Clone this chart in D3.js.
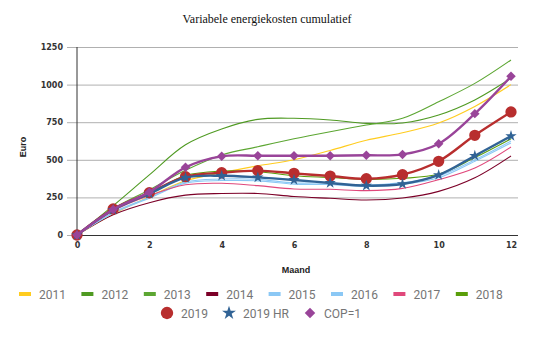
<!DOCTYPE html>
<html>
<head>
<meta charset="utf-8">
<script src="https://cdn.jsdelivr.net/npm/d3@7"></script>
<style>
  body { margin: 0; background: #fff; }
</style>
</head>
<body>
<script>
// Data
const months = [0, 1, 2, 3, 4, 5, 6, 7, 8, 9, 10, 11, 12]
const yTicks = [0, 250, 500, 750, 1000, 1250]
const xTicks = [0, 2, 4, 6, 8, 10, 12]

const y2011 = [0, 140, 255, 360, 414, 460, 500, 562, 630, 680, 745, 855, 1000]
const y2012 = [0, 195, 400, 600, 705, 769, 776, 765, 742, 745, 798, 898, 1042]
const y2013 = [0, 175, 300, 430, 532, 587, 640, 687, 731, 776, 886, 1008, 1164]
const y2014 = [0, 135, 215, 265, 276, 276, 256, 244, 233, 246, 290, 380, 525]
const y2015 = [0, 150, 250, 352, 372, 370, 346, 346, 332, 348, 392, 500, 625]
const y2016 = [0, 145, 245, 345, 362, 360, 338, 336, 322, 336, 380, 490, 612]
const y2017 = [0, 160, 262, 334, 344, 328, 306, 304, 295, 310, 368, 445, 585]
const y2018 = [0, 165, 275, 395, 425, 421, 394, 382, 370, 377, 405, 515, 640]
const y2019 = [0, 173, 281, 388, 414, 428, 410, 392, 374, 401, 490, 663, 818]
const y2019HR = [0, 168, 275, 381, 394, 383, 366, 346, 328, 339, 399, 527, 658]
const yCOP = [0, 170, 285, 450, 523, 527, 527, 527, 530, 536, 607, 807, 1055]

const lineSeries = [
    { name: "2011", values: y2011, color: "#ffcc1f" },
    { name: "2012", values: y2012, color: "#4f9a22" },
    { name: "2013", values: y2013, color: "#5ca632" },
    { name: "2014", values: y2014, color: "#7c0028" },
    { name: "2015", values: y2015, color: "#8bc8f5" },
    { name: "2016", values: y2016, color: "#8bc8f5" },
    { name: "2017", values: y2017, color: "#e0487b" },
    { name: "2018", values: y2018, color: "#5a9e0a" },
]
const markerSeries = [
    { name: "2019", values: y2019, color: "#b82e2e", symbol: d3.symbolCircle, size: 100, rotate: 0 },
    { name: "2019 HR", values: y2019HR, color: "#316395", symbol: d3.symbolStar, size: 40, rotate: 0 },
    { name: "COP=1", values: yCOP, color: "#994499", symbol: d3.symbolSquare, size: 45, rotate: 45 },
]

// SVG parameters
const width = 535
const height = 338
const plotLeft = 77, plotRight = 511, plotTop = 47, plotBottom = 235

let svg = d3.select("body")
    .append("svg")
    .attr("width", width)
    .attr("height", height)
    .style("font-family", "'Liberation Sans', Arial, sans-serif")

let xScale = d3.scaleLinear().domain([0, 12]).range([plotLeft, plotRight])
let yScale = d3.scaleLinear().domain([0, 1250]).range([plotBottom, plotTop])

// Title
svg.append("text")
    .attr("x", 267)
    .attr("y", 23)
    .attr("text-anchor", "middle")
    .style("font-family", "'Liberation Serif', serif")
    .style("font-size", "12px")
    .attr("fill", "#111")
    .text("Variabele energiekosten cumulatief")

// Gridlines and y labels
let yAxis = svg.append("g")
    .attr("transform", `translate(518, 0)`)
    .call(d3.axisLeft(yScale).tickValues(yTicks).tickFormat(d3.format("d")).tickSize(451).tickPadding(4))
yAxis.select(".domain").remove()
yAxis.selectAll("line").attr("stroke", "#b0b0b0")
yAxis.selectAll("text")
    .style("font-family", "'DejaVu Sans', sans-serif")
    .style("font-size", "8px")
    .style("font-weight", "bold")
    .attr("fill", "#333")

// x labels
let xAxis = svg.append("g")
    .attr("transform", `translate(0, ${plotBottom})`)
    .call(d3.axisBottom(xScale).tickValues(xTicks).tickSize(0).tickPadding(7))
xAxis.select(".domain").remove()
xAxis.selectAll("text")
    .style("font-family", "'DejaVu Sans', sans-serif")
    .style("font-size", "8px")
    .style("font-weight", "bold")
    .attr("fill", "#333")

// Axis lines
svg.append("line")
    .attr("x1", plotLeft).attr("x2", plotLeft)
    .attr("y1", plotTop).attr("y2", plotBottom)
    .attr("stroke", "#333").attr("stroke-width", 1)
svg.append("line")
    .attr("x1", plotLeft).attr("x2", 518)
    .attr("y1", plotBottom + 0.5).attr("y2", plotBottom + 0.5)
    .attr("stroke", "#333").attr("stroke-width", 1)

// Axis titles
svg.append("text")
    .attr("transform", `translate(26, 147) rotate(-90)`)
    .attr("text-anchor", "middle")
    .style("font-size", "9px")
    .style("font-weight", "bold")
    .attr("fill", "#222")
    .text("Euro")
svg.append("text")
    .attr("x", 296)
    .attr("y", 273)
    .attr("text-anchor", "middle")
    .style("font-size", "9px")
    .style("font-weight", "bold")
    .attr("fill", "#222")
    .text("Maand")

let line = (values) => d3.line()
    .x((d, i) => xScale(months[i]))
    .y(d => yScale(d))
    .curve(d3.curveCatmullRom.alpha(0.5))(values)

// Thin yearly lines
lineSeries.forEach(s => {
    svg.append("path")
        .attr("d", line(s.values))
        .attr("fill", "none")
        .attr("stroke", s.color)
        .attr("stroke-width", 1.1)
})

// 2019 series with markers
markerSeries.forEach(s => {
    svg.append("path")
        .attr("d", line(s.values))
        .attr("fill", "none")
        .attr("stroke", s.color)
        .attr("stroke-width", 2.4)
    svg.selectAll(null)
        .data(s.values).enter().append("path")
        .attr("d", d3.symbol().type(s.symbol).size(s.size))
        .attr("transform", (d, i) => `translate(${xScale(months[i])}, ${yScale(d)}) rotate(${s.rotate})`)
        .attr("fill", s.color)
})

// Legend, row 1
lineSeries.forEach((s, i) => {
    let x = 19 + i * 62.4
    svg.append("rect")
        .attr("x", x).attr("y", 292)
        .attr("width", 12).attr("height", 4)
        .attr("fill", s.color)
    svg.append("text")
        .attr("x", x + 20).attr("y", 298.5)
        .style("font-family", "Roboto, sans-serif")
        .style("font-size", "12px")
        .attr("fill", "#757575")
        .text(s.name)
})

// Legend, row 2
const row2x = [167, 229, 310]
const row2size = [120, 60, 55]
markerSeries.forEach((s, i) => {
    let x = row2x[i]
    svg.append("path")
        .attr("d", d3.symbol().type(s.symbol).size(row2size[i]))
        .attr("transform", `translate(${x}, 313) rotate(${s.rotate})`)
        .attr("fill", s.color)
    svg.append("text")
        .attr("x", x + 14).attr("y", 317.5)
        .style("font-family", "Roboto, sans-serif")
        .style("font-size", "12px")
        .attr("fill", "#757575")
        .text(s.name)
})
</script>
</body>
</html>
